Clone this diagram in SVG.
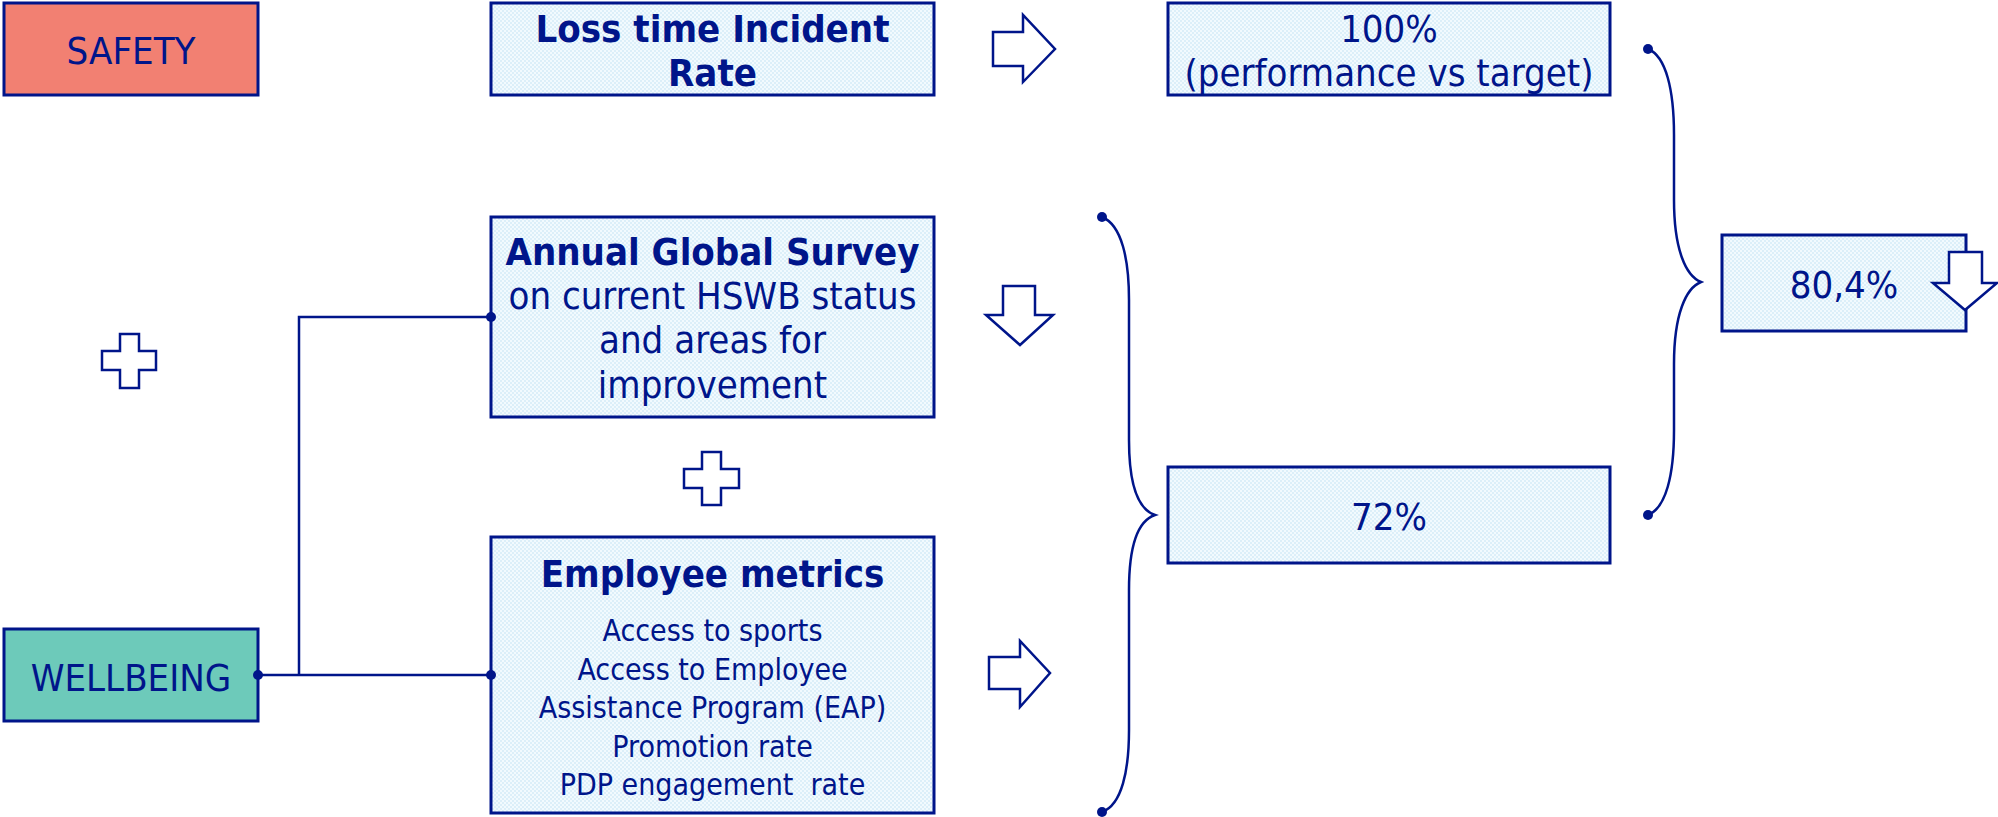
<svg xmlns="http://www.w3.org/2000/svg" width="1998" height="817" viewBox="0 0 1998 817">
<defs>
<pattern id="dots" width="4" height="4" patternUnits="userSpaceOnUse">
<rect width="4" height="4" fill="#F2FAFE"/>
<rect width="2" height="2" fill="#DCEFF9"/>
<rect x="2" y="2" width="2" height="2" fill="#DCEFF9"/>
</pattern>
<marker id="dot" viewBox="0 0 10 10" refX="5" refY="5" markerWidth="10" markerHeight="10" markerUnits="userSpaceOnUse">
<circle cx="5" cy="5" r="5" fill="#00158A"/>
</marker>
</defs>
<style>
.box{fill:url(#dots);stroke:#00158A;stroke-width:3}
.t{font-family:'DejaVu Sans Condensed','DejaVu Sans',sans-serif;font-stretch:condensed;fill:#00158A;text-anchor:middle}
.m{font-size:38px}
.s{font-size:30px}
.b{font-weight:bold}
.shape{fill:#fff;stroke:#00158A;stroke-width:2.5;stroke-linejoin:miter}
.con{fill:none;stroke:#00158A;stroke-width:2.5}
</style>
<rect width="1998" height="817" fill="#fff"/>
<g id="safety">
<rect x="4" y="3" width="254" height="92" fill="#F28072" stroke="#00158A" stroke-width="3"/>
<text class="t m" x="131" y="64">SAFETY</text>
</g>
<g id="wellbeing">
<rect x="4" y="629" width="254" height="92" fill="#6DCABA" stroke="#00158A" stroke-width="3"/>
<text class="t m" x="131" y="691">WELLBEING</text>
</g>
<g id="loss-time">
<rect class="box" x="491" y="3" width="443" height="92"/>
<text class="t m b" x="712.5" y="42">Loss time Incident</text>
<text class="t m b" x="712.5" y="86">Rate</text>
</g>
<g id="survey">
<rect class="box" x="491" y="217" width="443" height="200"/>
<text class="t m b" x="712.5" y="265">Annual Global Survey</text>
<text class="t m" x="712.5" y="309">on current HSWB status</text>
<text class="t m" x="712.5" y="353">and areas for</text>
<text class="t m" x="712.5" y="398">improvement</text>
</g>
<g id="employee-metrics">
<rect class="box" x="491" y="537" width="443" height="276"/>
<text class="t m b" x="712.5" y="587">Employee metrics</text>
<text class="t s" x="712.5" y="641">Access to sports</text>
<text class="t s" x="712.5" y="680">Access to Employee</text>
<text class="t s" x="712.5" y="718">Assistance Program (EAP)</text>
<text class="t s" x="712.5" y="757">Promotion rate</text>
<text class="t s" x="712.5" y="795">PDP engagement&#160; rate</text>
</g>
<g id="result-100">
<rect class="box" x="1168" y="3" width="442" height="92"/>
<text class="t m" x="1389" y="42">100%</text>
<text class="t m" x="1389" y="86">(performance vs target)</text>
</g>
<g id="result-72">
<rect class="box" x="1168" y="467" width="442" height="96"/>
<text class="t m" x="1389" y="530">72%</text>
</g>
<g id="result-804">
<rect class="box" x="1722" y="235" width="244" height="96"/>
<text class="t m" x="1844" y="298">80,4%</text>
<path class="shape" d="M1949,252 H1982 V283 H1997 L1965,310 L1933,283 H1949 Z"/>
</g>
<g id="plus-left"><path class="shape" d="M120,334 H139 V351 H156 V370 H139 V388 H120 V370 H102 V351 H120 Z"/></g>
<g id="plus-middle"><path class="shape" d="M702,452 H721 V469 H739 V488 H721 V505 H702 V488 H684 V469 H702 Z"/></g>
<g id="arrow-top"><path class="shape" d="M993,32 H1023 V15 L1055,49 L1023,82 V66 H993 Z"/></g>
<g id="arrow-down"><path class="shape" d="M1003,286 H1035 V315 H1053 L1020,345 L986,315 H1003 Z"/></g>
<g id="arrow-bottom"><path class="shape" d="M989,657 H1020 V641 L1050,673 L1020,707 V689 H989 Z"/></g>
<g id="connectors">
<path class="con" d="M258,675 H491" marker-start="url(#dot)" marker-end="url(#dot)"/>
<path class="con" stroke-width="2" d="M299,675 V317 H491" marker-end="url(#dot)"/>
<path class="con" d="M1102,217 C1122,225 1129,260 1129,300 L1129,440 C1129,490 1140,510 1155,515 C1140,520 1129,540 1129,590 L1129,730 C1129,770 1122,805 1102,812" marker-start="url(#dot)" marker-end="url(#dot)"/>
<path class="con" d="M1648,49 C1666,56 1674,90 1674,135 L1674,200 C1674,250 1686,276 1701,282 C1686,288 1674,314 1674,364 L1674,430 C1674,475 1666,508 1648,515" marker-start="url(#dot)" marker-end="url(#dot)"/>
</g>
</svg>
